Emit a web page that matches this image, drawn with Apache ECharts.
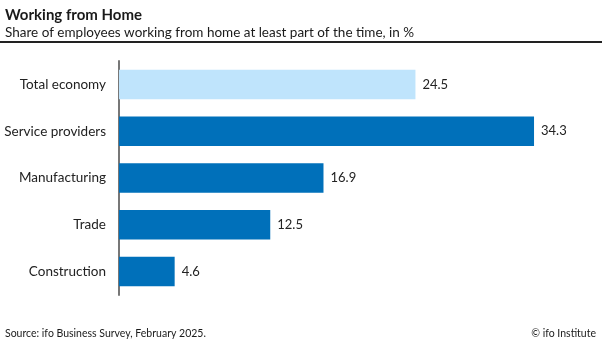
<!DOCTYPE html>
<html><head><meta charset="utf-8">
<script src="https://cdn.jsdelivr.net/npm/echarts@6/dist/echarts.min.js"></script>
<style>html,body{margin:0;padding:0;background:#fff}#c{width:602px;height:339px}</style>
</head><body><div id="c"></div>
<script>
var categories = ["Total economy", "Service providers", "Manufacturing", "Trade", "Construction"];
var values = [24.5, 34.3, 16.9, 12.5, 4.6];
var highlight = [true, false, false, false, false];

var FONT = "Lato";
var chart = echarts.init(document.getElementById('c'), null, {renderer: 'canvas'});
chart.setOption({
  animation: false,
  textStyle: {fontFamily: FONT},
  title: [
    {text: "Working from Home", left: 0, top: 3, textStyle: {fontFamily: FONT, fontSize: 15, fontWeight: 'bold', color: '#1a1a1a'}},
    {text: "Share of employees working from home at least part of the time, in %", left: 0, top: 21, textStyle: {fontFamily: FONT, fontSize: 13.5, fontWeight: 'normal', color: '#1a1a1a'}},
    {text: "Source: ifo Business Survey, February 2025.", left: 0, top: 323, textStyle: {fontFamily: FONT, fontSize: 10.5, fontWeight: 'normal', color: '#1a1a1a'}},
    {text: "© ifo Institute", right: 1, top: 323, textStyle: {fontFamily: FONT, fontSize: 10.5, fontWeight: 'normal', color: '#1a1a1a'}}
  ],
  graphic: [
    {type: 'line', shape: {x1: 0, y1: 42, x2: 602, y2: 42}, style: {stroke: '#222', lineWidth: 2}}
  ],
  grid: {left: 119, right: 59.5, top: 61, bottom: 44, containLabel: false},
  xAxis: {type: 'value', min: 0, max: 35, show: false},
  yAxis: {
    type: 'category', data: categories, inverse: true,
    axisLine: {show: true, lineStyle: {color: '#777', width: 2}},
    axisTick: {show: false},
    axisLabel: {fontFamily: FONT, fontSize: 13.5, color: '#222', margin: 13}
  },
  series: [{
    type: 'bar',
    barWidth: '63%',
    data: values.map(function (v, i) {
      return {value: v, itemStyle: {color: highlight[i] ? '#BFE4FC' : '#0070BA'}};
    }),
    label: {show: true, position: 'right', distance: 7, fontFamily: FONT, fontSize: 13, color: '#222',
      formatter: function (p) { return p.value.toFixed(1); }}
  }]
});
</script></body></html>
